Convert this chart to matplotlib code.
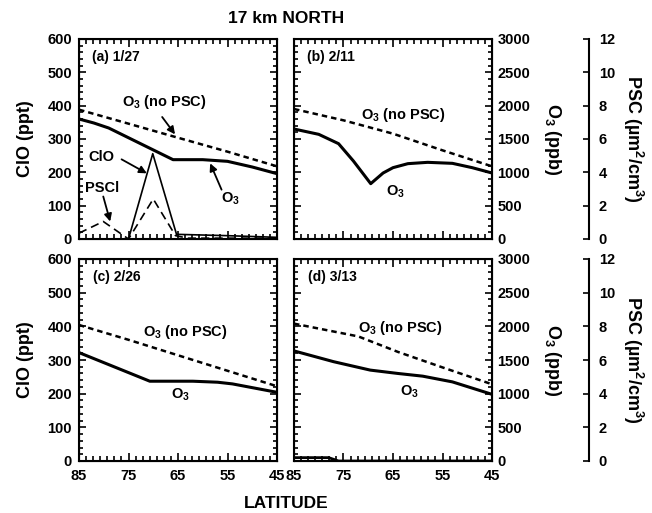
import numpy as np
import matplotlib.pyplot as plt
from matplotlib.ticker import FixedLocator, MultipleLocator
from matplotlib.transforms import blended_transform_factory as blend

plt.rcParams['font.family'] = ['Liberation Sans', 'DejaVu Sans']
plt.rcParams['font.weight'] = 'bold'
plt.rcParams['mathtext.fontset'] = 'custom'
plt.rcParams['mathtext.rm'] = 'Liberation Sans:bold'
plt.rcParams['mathtext.it'] = 'Liberation Sans:bold'
plt.rcParams['mathtext.bf'] = 'Liberation Sans:bold'

# ---- data (latitude, deg N) ----
# O3 in ppb, ClO in ppt, PSC surface area in um2/cm3
lat_o3_a = [85, 82, 79, 66, 60, 55, 50, 45]
o3_a = [1800, 1740, 1665, 1190, 1190, 1165, 1080, 980]
lat_nopsc_a = [85, 75, 66, 55, 45]
nopsc_a = [1940, 1730, 1540, 1310, 1090]
lat_clo_a = [85, 75, 70.1, 65.3, 55, 45]
clo_a = [0, 0, 256, 14, 10, 5]
lat_psc_a = [85, 80.1, 75, 70, 65.5, 63, 45]
psc_a = [0.35, 1.05, 0, 2.4, 0.2, 0.05, 0.05]

lat_o3_b = [85, 80, 76, 73, 69.5, 67, 65, 62, 58, 53, 49, 45]
o3_b = [1650, 1570, 1430, 1170, 830, 990, 1070, 1130, 1150, 1135, 1070, 990]
lat_nopsc_b = [85, 75, 65, 55, 45]
nopsc_b = [1950, 1780, 1580, 1330, 1090]

lat_o3_c = [85, 70.7, 62, 57, 54, 45]
o3_c = [1610, 1185, 1185, 1170, 1145, 1020]
lat_nopsc_c = [85, 75, 65, 55, 45]
nopsc_c = [2020, 1800, 1570, 1340, 1110]

lat_o3_d = [85, 77, 69.6, 64, 59, 53, 45]
o3_d = [1635, 1475, 1350, 1300, 1260, 1175, 990]
lat_nopsc_d = [85, 72, 64, 55, 45]
nopsc_d = [2040, 1850, 1620, 1390, 1140]
lat_clo_d = [85, 78, 76, 45]
clo_d = [10, 10, 0, 0]

panel_names = ['(a) 1/27', '(b) 2/11', '(c) 2/26', '(d) 3/13']
lat_ticks = [85, 75, 65, 55, 45]

W, H = 652, 513
fig = plt.figure(figsize=(W / 100, H / 100), dpi=100)
PW = 198.0  # panel width in px
psc_pos = 1.49  # PSC spine position, axes fraction

def inside(locs, lo, hi):
    return [v for v in locs if lo - 1e-6 <= v <= hi + 1e-6]

def draw_ticks(ax, o3ax, pscax, col, h):
    # tick marks drawn as lines at the locator positions
    kw = dict(colors='k', lw=1.2, clip_on=False)
    ty = ax.get_yaxis_transform()
    for locs, ln in [(ax.yaxis.get_majorticklocs(), 7), (ax.yaxis.get_minorticklocs(), 4)]:
        ax.hlines(inside(locs, 0, 600), 0, ln / PW, transform=ty, **kw)
    to = o3ax.get_yaxis_transform()
    for locs, ln in [(o3ax.yaxis.get_majorticklocs(), 7), (o3ax.yaxis.get_minorticklocs(), 4)]:
        o3ax.hlines(inside(locs, 0, 3000), 1 - ln / PW, 1, transform=to, **kw)
    tx = ax.get_xaxis_transform()
    for locs, ln in [(ax.xaxis.get_majorticklocs(), 8), (ax.xaxis.get_minorticklocs(), 5)]:
        locs = inside(locs, 45, 85)
        ax.vlines(locs, 0, ln / h, transform=tx, **kw)
        ax.vlines(locs, 1 - ln / h, 1, transform=tx, **kw)
    if col == 1:
        tp = blend(pscax.transAxes, pscax.transData)
        pscax.hlines(inside(pscax.yaxis.get_majorticklocs(), 0, 12), psc_pos - 6 / PW, psc_pos,
                     transform=tp, **kw)

def make_panel(left, top, h, col, row):
    ax = fig.add_axes([left / W, 1 - (top + h) / H, PW / W, h / H])
    ax.set_xlim(85, 45)
    ax.set_ylim(0, 600)
    ax.xaxis.set_major_locator(FixedLocator(lat_ticks))
    ax.xaxis.set_minor_locator(FixedLocator(np.arange(45, 85.01, 10 / 7)))
    ax.yaxis.set_major_locator(MultipleLocator(100))
    ax.yaxis.set_minor_locator(MultipleLocator(20))
    for s in ax.spines.values():
        s.set_linewidth(1.5)

    o3ax = ax.twinx()
    o3ax.set_ylim(0, 3000)
    o3ax.yaxis.set_major_locator(MultipleLocator(500))
    o3ax.yaxis.set_minor_locator(MultipleLocator(100))

    pscax = ax.twinx()
    pscax.set_ylim(0, 12)

    ax.tick_params(which='both', direction='in', top=True, bottom=True, left=True, right=False,
                   length=0, labelsize=10.5)
    ax.tick_params(axis='y', which='major', pad=5)
    ax.tick_params(axis='x', which='major', pad=6)
    if col == 1:
        ax.tick_params(labelleft=False)
    if row == 0:
        ax.tick_params(labelbottom=False)

    o3ax.tick_params(which='both', direction='in', length=0, labelsize=10.5, pad=4)
    if col == 0:
        o3ax.tick_params(labelright=False)

    for k in ['top', 'bottom', 'left']:
        pscax.spines[k].set_visible(False)
    if col == 1:
        pscax.spines['right'].set_position(('axes', psc_pos))
        pscax.spines['right'].set_linewidth(1.5)
        pscax.yaxis.set_major_locator(MultipleLocator(2))
        pscax.tick_params(direction='in', length=0, labelsize=10.5, pad=7)
    else:
        pscax.spines['right'].set_visible(False)
        pscax.tick_params(right=False, labelright=False)
    draw_ticks(ax, o3ax, pscax, col, h)
    return ax, o3ax, pscax

axa, o3a, psca = make_panel(79, 39, 200, 0, 0)
axb, o3b, pscb = make_panel(294, 39, 200, 1, 0)
axc, o3c, pscc = make_panel(79, 259, 202, 0, 1)
axd, o3d, pscd = make_panel(294, 259, 202, 1, 1)

dash = (0, (2.2, 1.6))
for o3ax, lo, vo, ln, vn in [(o3a, lat_o3_a, o3_a, lat_nopsc_a, nopsc_a),
                              (o3b, lat_o3_b, o3_b, lat_nopsc_b, nopsc_b),
                              (o3c, lat_o3_c, o3_c, lat_nopsc_c, nopsc_c),
                              (o3d, lat_o3_d, o3_d, lat_nopsc_d, nopsc_d)]:
    o3ax.plot(lo, vo, color='k', lw=2.2, solid_joinstyle='round')
    o3ax.plot(ln, vn, color='k', lw=1.8, linestyle=dash)

axa.plot(lat_clo_a, clo_a, color='k', lw=1.2)
psca.plot(lat_psc_a, psc_a, color='k', lw=1.2, linestyle=(0, (5, 3)))
axd.plot(lat_clo_d, clo_d, color='k', lw=2.0)

for ax, name, tx in [(axa, panel_names[0], 0.066), (axb, panel_names[1], 0.066),
                     (axc, panel_names[2], 0.072), (axd, panel_names[3], 0.072)]:
    ax.text(tx, 0.91, name, transform=ax.transAxes, fontsize=10, ha='left', va='center')

arrow = dict(arrowstyle='-|>', color='k', lw=1.3, mutation_scale=11, shrinkA=0, shrinkB=0)
lab = dict(fontsize=10.5, ha='center', va='center')

# panel (a) labels
o3a.text(67.8, 2055, 'O$_3$ (no PSC)', **lab)
o3a.annotate('', xy=(65.6, 1570), xytext=(68.2, 1830), arrowprops=arrow)
axa.text(80.4, 247, 'ClO', **lab)
axa.annotate('', xy=(71.3, 197), xytext=(76.4, 239), arrowprops=arrow)
psca.text(80.4, 3.05, 'PSCl', **lab)
psca.annotate('', xy=(78.7, 1.05), xytext=(80.1, 2.55), arrowprops=arrow)
o3a.text(54.5, 600, 'O$_3$', **lab)
o3a.annotate('', xy=(58.5, 1135), xytext=(56.2, 740), arrowprops=arrow)

# panel (b)
o3b.text(62.9, 1865, 'O$_3$ (no PSC)', **lab)
o3b.text(64.6, 715, 'O$_3$', **lab)
# panel (c)
o3c.text(63.6, 1910, 'O$_3$ (no PSC)', **lab)
o3c.text(64.6, 985, 'O$_3$', **lab)
# panel (d)
o3d.text(63.6, 1975, 'O$_3$ (no PSC)', **lab)
o3d.text(61.6, 1025, 'O$_3$', **lab)

fig.text(286 / W, 1 - 19 / H, '17 km NORTH', fontsize=12.5, ha='center', va='center')
fig.text(286 / W, 1 - 503 / H, 'LATITUDE', fontsize=12.5, ha='center', va='center')
for yc in [139, 360]:
    fig.text(26 / W, 1 - yc / H, 'ClO (ppt)', fontsize=13, rotation=90, ha='center', va='center')
    fig.text(552 / W, 1 - yc / H, 'O$_3$ (ppb)', fontsize=13, rotation=-90, ha='center', va='center')
    fig.text(633 / W, 1 - yc / H, 'PSC (\u00b5m$^2$/cm$^3$)', fontsize=13, rotation=-90,
             ha='center', va='center')

fig.savefig('out.png', dpi=100)
